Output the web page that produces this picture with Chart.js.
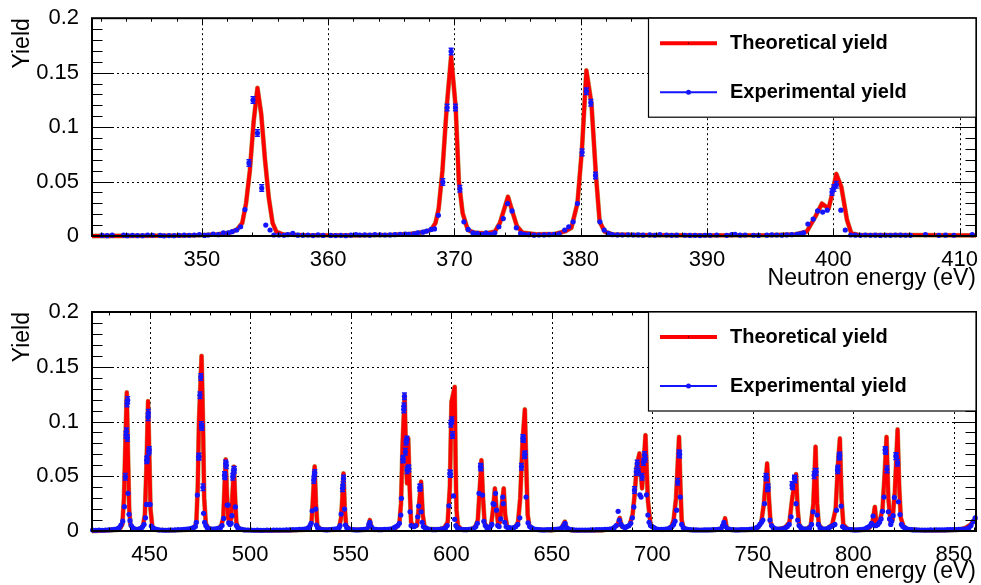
<!DOCTYPE html>
<html><head><meta charset="utf-8">
<script src="https://cdn.jsdelivr.net/npm/chart.js@4.4.0/dist/chart.umd.min.js"></script>
<style>
html,body{margin:0;padding:0;background:#fff;}
#wrap{position:relative;width:981px;height:585px;overflow:hidden;}
canvas{position:absolute;left:0;}
</style></head><body>
<div id="wrap">
<canvas id="c1" width="981" height="292" style="top:0px"></canvas>
<canvas id="c2" width="981" height="293" style="top:292px"></canvas>
</div>
<script>
// ---------- tick labels / texts ----------
const yTicks = [0, 0.05, 0.1, 0.15, 0.2];
const yTickLabels = ['0', '0.05', '0.1', '0.15', '0.2'];
const xTicksTop = [350, 360, 370, 380, 390, 400, 410];
const xTickLabelsTop = ['350', '360', '370', '380', '390', '400', '410'];
const xTicksBot = [450, 500, 550, 600, 650, 700, 750, 800, 850];
const xTickLabelsBot = ['450', '500', '550', '600', '650', '700', '750', '800', '850'];
const legendLabels = ['Theoretical yield', 'Experimental yield'];
const yTitle = 'Yield';
const xTitle = 'Neutron energy (eV)';
const errHalf = 0.003;   // read size of the visible error bars

// ---------- top panel: theoretical yield [E, Y] ----------
const theoryTop = [
[341.3,0],[348,0.0003],[350,0.0008],[351.2,0.0015],[352.2,0.003],[352.8,0.006],[353.2,0.012],[353.5,0.03],[353.8,0.06],[354.1,0.105],[354.4,0.136],[354.7,0.112],[355.0,0.07],[355.3,0.035],[355.6,0.012],[355.9,0.004],[356.4,0.0015],[358,0.0008],[362,0.0006],[365,0.001],[366.5,0.002],[367.5,0.0035],[368.15,0.0055],[368.5,0.012],[368.75,0.025],[369.05,0.06],[369.4,0.12],[369.74,0.165],[370.1,0.118],[370.35,0.05],[370.65,0.021],[371.06,0.0055],[371.6,0.003],[372.5,0.0025],[373.2,0.004],[373.6,0.012],[373.95,0.025],[374.24,0.036],[374.6,0.022],[374.95,0.009],[375.4,0.003],[376.5,0.0015],[378,0.002],[378.8,0.0045],[379.26,0.0075],[379.74,0.03],[380.1,0.08],[380.45,0.152],[380.85,0.1215],[381.2,0.0571],[381.5,0.0131],[381.9,0.004],[382.5,0.0015],[385,0.0008],[390,0.0005],[395,0.0008],[397,0.0015],[397.9,0.004],[398.57,0.0176],[399.1,0.0298],[399.63,0.0252],[399.9,0.038],[400.24,0.0571],[400.64,0.045],[401.09,0.0146],[401.43,0.0024],[402,0.001],[411.3,0.0005]
];
// ---------- top panel: experimental yield [E, Y] ----------
const expTop = [
[342.1,.0005],[342.5,.0003],[342.9,.0008],[343.8,.0008],[344.1,.0003],[344.5,.0006],[344.9,.0004],[345.3,.0003],[345.7,.0009],[346.1,.0007],[346.7,.0005],[347.0,.0002],[347.4,.0004],[347.8,.0003],[348.2,.0006],[348.6,.0008],[349.0,.0007],[349.4,.0009],[349.8,.0012],[350.2,.0005],[350.5,.0009],[350.9,.0018],[351.3,.0012],[351.7,.003],[352.1,.0028],[352.4,.004],[352.75,.0055],[353.07,.0085],[353.41,.0243],[353.73,.0671],[354.05,.1248],[354.4,.0945],[354.74,.044],[355.06,.010],[355.4,.0055],[355.7,.0009],[356.1,.0009],[356.5,.0007],[356.8,.0012],[357.2,.0025],[357.6,.0008],[358.0,.0006],[358.4,.0009],[358.8,.0004],[359.2,.001],[359.6,.0005],[360.2,.0005],[360.6,.0004],[361.0,.0006],[361.4,.0003],[361.8,.0008],[362.2,.0012],[362.5,.0009],[362.9,.001],[363.3,.0008],[363.7,.0012],[364.1,.0011],[364.5,.0009],[364.9,.001],[365.3,.0012],[365.7,.0015],[366.1,.0018],[366.4,.0016],[366.8,.002],[367.1,.003],[367.5,.0035],[367.8,.0045],[368.15,.006],[368.42,.0065],[368.73,.019],[369.08,.0495],[369.42,.118],[369.74,.1695],[370.08,.118],[370.43,.0434],[370.75,.013],[371.09,.006],[371.46,.003],[371.8,.0024],[372.17,.0015],[372.5,.003],[372.83,.0015],[373.2,.003],[373.52,.0085],[373.87,.016],[374.21,.0298],[374.56,.023],[374.9,.0075],[375.24,.0024],[375.55,.0015],[375.9,.0012],[376.3,.0008],[376.7,.0009],[377.1,.001],[377.5,.0012],[377.9,.0015],[378.3,.002],[378.73,.0055],[379.05,.0085],[379.4,.013],[379.74,.0298],[380.11,.0768],[380.45,.133],[380.8,.1224],[381.17,.0556],[381.52,.013],[381.86,.0055],[382.18,.0024],[382.51,.0012],[382.91,.001],[383.3,.0009],[383.75,.0011],[384.15,.0009],[384.55,.001],[384.94,.0008],[385.47,.001],[385.87,.0007],[386.27,.0012],[386.8,.0009],[387.2,.0006],[387.6,.0008],[388.25,.0007],[388.65,.0005],[389.05,.0006],[389.45,.0004],[389.84,.0007],[390.24,.0006],[390.77,.0009],[391.56,.0006],[391.96,.0012],[392.22,.0016],[392.62,.0008],[393.02,.0009],[393.68,.0007],[394.08,.0005],[394.74,.0008],[395.13,.001],[395.53,.0009],[395.93,.0007],[396.32,.001],[396.72,.0012],[397.12,.0015],[397.38,.002],[397.65,.003],[397.99,.011],[398.41,.0155],[398.76,.023],[399.16,.022],[399.52,.0237],[399.9,.0404],[400.05,.044],[400.24,.047],[400.6,.0237],[400.95,.0055],[401.38,.0009],[401.75,.0008],[402.14,.0006],[402.54,.0009],[402.94,.0007],[403.33,.0008],[403.73,.0005],[404.13,.0007],[404.53,.0006],[404.92,.0009],[405.32,.0008],[405.72,.0007],[406.11,.0006],[407.3,.0012],[408.36,.0006],[408.89,.0008],[409.55,.0007],[411.0,.0012]
];

// ---------- bottom panel: theoretical yield [E, Y] ----------
const theoryBot = [
[421.3,0],[434,0.001],[435.5,0.003],[436.4,0.006],[437.2,0.03],[437.9,0.08],[438.6,0.1265],[439.2,0.07],[439.8,0.02],[440.4,0.006],[441.5,0.002],[443.5,0.0015],[445.5,0.002],[446.7,0.005],[447.6,0.015],[448.4,0.06],[449.2,0.1186],[449.8,0.07],[450.4,0.02],[451.3,0.004],[453,0.001],[460,0.0005],[468,0.001],[471,0.002],[472.5,0.004],[473.2,0.008],[473.9,0.04],[474.5,0.1],[475.8,0.16],[476.5,0.1],[477.1,0.03],[477.9,0.007],[479,0.003],[481,0.0015],[484,0.002],[485.6,0.005],[486.6,0.012],[487.2,0.04],[487.8,0.0655],[488.4,0.035],[489,0.012],[489.8,0.007],[490.6,0.012],[491.2,0.035],[491.9,0.0587],[492.5,0.03],[493.1,0.008],[494,0.003],[496,0.001],[505,0.0003],[520,0.0005],[527,0.001],[529.3,0.003],[530.5,0.008],[531.2,0.03],[532.05,0.059],[532.7,0.025],[533.4,0.005],[535,0.0015],[542,0.001],[544.2,0.003],[545.2,0.012],[545.8,0.03],[546.4,0.0526],[547,0.022],[547.7,0.005],[549.5,0.0015],[557,0.001],[558.7,0.003],[559.5,0.01],[560.3,0.003],[562,0.001],[570,0.0015],[572.5,0.003],[574.2,0.007],[575.0,0.025],[575.8,0.08],[576.8,0.124],[577.6,0.06],[578.0,0.0435],[578.6,0.0845],[579.3,0.04],[580,0.008],[581.5,0.004],[583,0.005],[584,0.025],[585,0.045],[585.8,0.015],[586.7,0.004],[588.5,0.002],[594,0.0015],[596.5,0.003],[598.2,0.008],[599.3,0.04],[600.1,0.118],[601.7,0.1316],[602.2,0.057],[602.6,0.0195],[603.3,0.005],[605,0.0015],[610,0.0015],[612,0.004],[613.2,0.01],[614.2,0.04],[615.0,0.0647],[615.8,0.03],[616.6,0.007],[618,0.003],[619.8,0.005],[620.8,0.02],[621.7,0.039],[622.5,0.02],[623.3,0.006],[624.2,0.008],[625.2,0.025],[626.1,0.039],[626.8,0.015],[627.8,0.004],[630,0.002],[632,0.004],[633.2,0.008],[634.3,0.03],[635.4,0.08],[636.6,0.111],[637.3,0.06],[638,0.015],[638.8,0.005],[641,0.0015],[650,0.0005],[654.5,0.002],[656.5,0.0085],[657.5,0.002],[660,0.0005],[675,0.0005],[680,0.002],[682.5,0.005],[683.8,0.012],[684.8,0.004],[686.5,0.003],[688.6,0.005],[690.2,0.015],[691.1,0.031],[692.3,0.06],[693.6,0.0709],[694.9,0.039],[696.6,0.0876],[697.8,0.028],[699.1,0.006],[701,0.002],[705,0.001],[708,0.002],[709.5,0.004],[710.6,0.01],[711.8,0.03],[713.3,0.086],[714.0,0.04],[714.6,0.01],[715.5,0.003],[718,0.001],[730,0.0008],[734,0.002],[735.4,0.006],[736.2,0.0116],[737,0.003],[739,0.001],[750,0.001],[752.5,0.003],[754.2,0.008],[755.5,0.025],[757.1,0.0617],[758.0,0.03],[758.8,0.008],[760,0.003],[762,0.0015],[766,0.003],[768.2,0.008],[769.6,0.03],[771.5,0.052],[772.3,0.02],[773,0.006],[774.5,0.002],[777,0.002],[778.8,0.005],[780.1,0.025],[781.2,0.077],[782,0.025],[782.8,0.006],[784.5,0.002],[787,0.002],[789.5,0.006],[791.2,0.02],[792.3,0.06],[793.3,0.0845],[794.1,0.03],[795,0.006],[797,0.002],[800,0.001],[805,0.001],[808,0.003],[809.5,0.008],[810.7,0.022],[811.5,0.006],[813,0.008],[814.5,0.02],[815.5,0.05],[816.5,0.086],[817.4,0.03],[818.5,0.008],[819.5,0.01],[820.6,0.035],[822.0,0.0927],[822.8,0.04],[823.6,0.012],[825,0.004],[827,0.0015],[835,0.0005],[845,0.0005],[852,0.001],[856,0.003],[858.5,0.006],[860,0.01],[861,0.012]
];
// ---------- bottom panel: experimental yield [E, Y] ----------
const expBot = [
[421.6,.0008],[423.2,.0006],[424.8,.0009],[426.4,.0007],[428.0,.0008],[429.6,.001],[431.2,.0012],[432.6,.0015],[433.8,.002],[434.8,.003],[435.7,.0055],[436.6,.009],[437.4,.0222],[437.9,.0495],[438.2,.0876],[438.45,.091],[438.7,.1165],[438.9,.085],[439.05,.1195],[439.2,.0344],[439.7,.0152],[440.2,.0094],[440.8,.005],[441.5,.003],[442.3,.002],[443.2,.0015],[444.1,.0015],[445.0,.002],[445.8,.0025],[446.5,.004],[447.2,.006],[447.9,.012],[448.4,.0243],[448.5,.0647],[448.8,.066],[449.2,.104],[449.35,.108],[449.5,.0723],[449.8,.074],[450.2,.0243],[450.8,.0045],[451.5,.003],[452.4,.002],[453.4,.0015],[454.6,.001],[456.2,.0008],[457.8,.0007],[459.4,.0008],[461.0,.0009],[462.6,.001],[464.2,.0012],[465.8,.0013],[467.2,.0015],[468.5,.0018],[469.7,.002],[470.8,.0025],[471.8,.003],[472.7,.004],[473.2,.008],[473.7,.0328],[474.3,.0678],[474.6,.068],[475.0,.124],[475.4,.1407],[475.7,.0967],[476.0,.095],[476.5,.0399],[476.8,.0161],[477.3,.008],[477.9,.005],[478.6,.003],[479.5,.002],[480.5,.0018],[481.6,.0018],[482.8,.002],[484.0,.0025],[485.2,.003],[486.0,.005],[486.8,.0115],[487.2,.051],[487.5,.05],[487.8,.0617],[488.1,.06],[488.5,.0237],[489.0,.0237],[489.3,.0075],[489.9,.006],[490.5,.007],[490.9,.014],[491.3,.0495],[491.6,.052],[491.8,.056],[492.1,.056],[492.6,.022],[493.1,.005],[493.8,.003],[494.7,.002],[495.8,.0015],[497.2,.001],[498.8,.0009],[500.4,.0008],[502.0,.0007],[503.6,.0008],[505.2,.0006],[506.8,.0007],[508.4,.0008],[510.0,.0007],[511.6,.0008],[513.2,.0009],[514.8,.0008],[516.4,.0009],[518.0,.001],[519.6,.001],[521.2,.0012],[522.8,.0012],[524.4,.0015],[525.8,.0015],[527.0,.0018],[528.1,.002],[529.0,.003],[529.8,.005],[530.3,.007],[530.8,.0185],[531.6,.0465],[531.9,.051],[532.1,.053],[532.6,.02],[532.9,.0055],[533.5,.003],[534.3,.002],[535.3,.0015],[536.6,.0012],[538.0,.001],[539.4,.0012],[540.8,.0015],[542.0,.0018],[543.2,.002],[544.2,.003],[544.7,.005],[545.2,.0155],[545.9,.039],[546.2,.042],[546.4,.048],[546.9,.02],[547.4,.0055],[548.0,.003],[548.8,.002],[549.8,.0015],[551.0,.0012],[552.4,.001],[553.8,.001],[555.2,.0012],[556.6,.0015],[558.0,.002],[559.0,.006],[559.5,.008],[560.2,.004],[561.2,.002],[562.6,.0015],[564.0,.0012],[565.4,.0012],[566.8,.0015],[568.2,.0015],[569.4,.0018],[570.6,.002],[571.6,.003],[572.5,.004],[573.4,.005],[574.2,.007],[574.9,.0146],[575.2,.0298],[575.9,.0653],[576.1,.066],[576.4,.111],[576.5,.114],[576.7,.123],[577.2,.0723],[577.5,.0815],[577.9,.0836],[578.0,.0556],[578.7,.0572],[578.9,.057],[579.5,.0176],[580.0,.005],[580.7,.004],[581.5,.004],[582.3,.005],[583.3,.013],[583.8,.0228],[584.3,.0395],[584.6,.04],[585.0,.0176],[585.5,.008],[586.1,.004],[587.0,.003],[588.1,.002],[589.4,.0015],[590.8,.0012],[592.2,.0012],[593.6,.0015],[595.0,.0018],[596.2,.002],[597.2,.003],[598.0,.005],[598.8,.023],[599.3,.0526],[599.6,.052],[599.8,.098],[600.3,.101],[600.6,.0876],[601.1,.032],[601.7,.0107],[602.3,.005],[603.0,.003],[603.9,.002],[605.0,.0015],[606.3,.0012],[607.6,.0012],[608.9,.0015],[610.1,.0018],[611.2,.002],[612.2,.004],[613.0,.007],[613.8,.0344],[614.5,.0587],[614.8,.058],[615.5,.0328],[616.2,.0088],[616.9,.005],[617.7,.003],[618.6,.003],[619.5,.004],[620.2,.006],[620.8,.025],[621.3,.0243],[622.0,.0344],[622.5,.019],[623.1,.005],[623.8,.004],[624.6,.011],[625.6,.031],[625.9,.025],[626.6,.008],[627.3,.004],[628.1,.003],[629.0,.003],[630.0,.0025],[631.0,.003],[632.1,.004],[633.1,.006],[634.1,.012],[634.9,.0587],[635.6,.085],[635.9,.084],[636.4,.0693],[636.7,.07],[637.2,.031],[638.2,.0075],[639.0,.004],[639.9,.003],[641.0,.002],[642.2,.0015],[643.6,.0012],[645.0,.001],[646.4,.001],[647.8,.0012],[649.2,.0012],[650.5,.0015],[651.8,.0015],[653.0,.0018],[654.2,.002],[655.2,.003],[656.0,.005],[656.6,.007],[657.3,.003],[658.3,.002],[659.6,.0012],[661.0,.001],[662.4,.0008],[663.8,.0008],[665.2,.0009],[666.6,.0008],[668.0,.0009],[669.4,.001],[670.8,.001],[672.2,.0012],[673.6,.0012],[675.0,.0013],[676.4,.0015],[677.7,.0016],[678.9,.0018],[680.0,.002],[681.0,.003],[682.0,.005],[683.0,.018],[683.6,.01],[684.4,.006],[685.4,.004],[686.4,.003],[687.4,.004],[688.4,.005],[689.3,.007],[690.1,.012],[690.8,.022],[691.1,.0374],[692.0,.054],[692.5,.0617],[693.1,.054],[693.8,.033],[694.4,.031],[694.9,.0495],[695.6,.063],[696.1,.0693],[696.5,.066],[697.1,.033],[697.8,.0146],[698.4,.008],[699.1,.005],[699.9,.004],[700.8,.003],[701.8,.002],[703.0,.0015],[704.3,.0015],[705.6,.0015],[706.8,.0018],[707.9,.002],[708.9,.003],[709.8,.004],[710.6,.006],[711.3,.009],[712.1,.019],[712.6,.045],[713.3,.0709],[713.6,.07],[713.9,.031],[714.6,.006],[715.4,.003],[716.4,.002],[717.6,.0015],[719.0,.0012],[720.4,.001],[721.8,.001],[723.2,.0009],[724.6,.0009],[726.0,.001],[727.4,.001],[728.8,.0011],[730.2,.0012],[731.6,.0013],[733.0,.0015],[734.2,.002],[735.0,.005],[735.6,.008],[736.4,.004],[737.4,.002],[738.6,.0015],[740.0,.0012],[741.4,.001],[742.8,.001],[744.2,.0012],[745.6,.0012],[747.0,.0013],[748.4,.0015],[749.6,.0018],[750.8,.002],[751.8,.003],[752.7,.004],[753.5,.006],[754.3,.008],[755.0,.01],[755.8,.025],[756.5,.0495],[756.8,.049],[757.3,.039],[757.6,.04],[758.5,.01],[759.3,.005],[760.2,.003],[761.2,.002],[762.4,.0018],[763.8,.0018],[765.0,.002],[766.2,.003],[767.2,.004],[768.1,.006],[769.0,.013],[769.5,.042],[769.8,.041],[770.7,.048],[771.0,.047],[771.5,.025],[772.3,.01],[773.0,.005],[773.9,.003],[774.9,.002],[776.1,.0018],[777.3,.002],[778.3,.003],[779.2,.006],[780.0,.0176],[780.5,.051],[781.0,.054],[781.5,.054],[782.0,.0146],[782.6,.006],[783.4,.003],[784.4,.002],[785.6,.0018],[786.8,.002],[787.9,.003],[788.9,.004],[789.9,.005],[790.8,.006],[791.6,.019],[792.1,.0556],[792.4,.057],[792.9,.0678],[793.2,.069],[793.9,.0228],[794.6,.004],[795.5,.003],[796.5,.002],[797.7,.0015],[799.0,.0012],[800.4,.001],[801.8,.001],[803.2,.0012],[804.6,.0015],[805.8,.002],[806.8,.003],[807.8,.004],[808.5,.005],[809.0,.007],[809.8,.0137],[810.6,.005],[811.4,.005],[812.2,.006],[813.0,.008],[813.8,.011],[814.5,.018],[815.2,.031],[815.8,.074],[816.1,.073],[816.7,.0563],[817.4,.0176],[818.0,.011],[818.6,.006],[819.1,.009],[819.8,.014],[820.4,.0307],[821.1,.0684],[821.4,.068],[822.0,.0623],[822.4,.0267],[823.2,.015],[823.9,.006],[824.6,.004],[825.5,.003],[826.5,.002],[827.6,.0015],[828.8,.0012],[830.0,.001],[831.4,.001],[832.8,.0009],[834.2,.0009],[835.6,.0008],[837.0,.0009],[838.4,.001],[839.8,.0009],[841.2,.001],[842.6,.001],[844.0,.0011],[845.4,.001],[846.8,.0012],[848.2,.0012],[849.6,.0013],[851.0,.0013],[852.4,.0015],[853.8,.0016],[855.2,.0018],[856.4,.002],[857.5,.003],[858.5,.005],[859.6,.0085],[860.6,.012]
];

// ---------- rendering ----------
const FONT = '"Liberation Sans", Arial, Helvetica, sans-serif';
Chart.defaults.font.family = FONT;
Chart.defaults.color = '#000';
const RED = '#ff0000', EDGE = '#b8a060', BLUE = '#1414ff';

function rootPlugin(minorStep) {
  return {
    id: 'rootStyle',
    beforeDatasetsDraw(chart) {
      const {ctx, chartArea: a, scales: {x, y}} = chart;
      ctx.save();
      ctx.strokeStyle = '#000'; ctx.lineWidth = 1; ctx.setLineDash([2, 3]);
      ctx.beginPath();
      x.ticks.forEach(t => { const px = Math.round(x.getPixelForValue(t.value)) + 0.5; ctx.moveTo(px, a.top); ctx.lineTo(px, a.bottom); });
      yTicks.forEach(v => { if (v > y.min && v < y.max) { const py = Math.round(y.getPixelForValue(v)) + 0.5; ctx.moveTo(a.left, py); ctx.lineTo(a.right, py); } });
      ctx.stroke();
      ctx.restore();
    },
    afterDatasetsDraw(chart) {
      const {ctx, scales: {x, y}} = chart;
      const ds = chart.data.datasets[0].data;
      ctx.save();
      ctx.strokeStyle = BLUE; ctx.lineWidth = 1.5;
      ctx.beginPath();
      ds.forEach(p => {
        if (p.y < 0.035) return;
        const px = x.getPixelForValue(p.x);
        const y1 = y.getPixelForValue(p.y + errHalf), y2 = y.getPixelForValue(p.y - errHalf);
        ctx.moveTo(px, y1); ctx.lineTo(px, y2);
        ctx.moveTo(px - 2.5, y1); ctx.lineTo(px + 2.5, y1);
        ctx.moveTo(px - 2.5, y2); ctx.lineTo(px + 2.5, y2);
      });
      ctx.stroke();
      ctx.restore();
    },
    afterDraw(chart) {
      const {ctx, chartArea: a, scales: {x, y}} = chart;
      ctx.save();
      ctx.strokeStyle = '#000'; ctx.lineWidth = 1;
      ctx.beginPath();
      const majX = new Set(x.ticks.map(t => t.value));
      for (let v = Math.ceil(x.min / minorStep) * minorStep; v <= x.max + 1e-9; v += minorStep) {
        const vv = Math.round(v * 1000) / 1000;
        const len = majX.has(vv) ? 7 : 3.5;
        const px = Math.round(x.getPixelForValue(vv)) + 0.5;
        ctx.moveTo(px, a.bottom); ctx.lineTo(px, a.bottom - len);
        ctx.moveTo(px, a.top); ctx.lineTo(px, a.top + len);
      }
      for (let i = 0; i <= 20; i++) {
        const v = i * 0.01;
        const len = (i % 5 === 0) ? 21 : 10.5;
        const py = Math.round(y.getPixelForValue(v)) + 0.5;
        ctx.moveTo(a.left, py); ctx.lineTo(a.left + len, py);
        ctx.moveTo(a.right, py); ctx.lineTo(a.right - len, py);
      }
      ctx.stroke();
      ctx.lineWidth = 2;
      ctx.strokeRect(a.left, a.top, a.right - a.left, a.bottom - a.top);
      // legend box
      const bx = 648, by = a.top, bw = a.right - bx, bh = 99;
      ctx.fillStyle = '#fff';
      ctx.fillRect(bx, by, bw, bh);
      ctx.lineWidth = 1.2;
      ctx.strokeRect(bx + 0.5, by, bw - 0.5, bh);
      const rows = [by + 25, by + 74];
      ctx.strokeStyle = RED; ctx.lineWidth = 4;
      ctx.beginPath(); ctx.moveTo(660, rows[0]); ctx.lineTo(717, rows[0]); ctx.stroke();
      ctx.fillStyle = '#000'; ctx.fillRect(688, rows[0] - 0.5, 1, 1);
      ctx.strokeStyle = BLUE; ctx.lineWidth = 2;
      ctx.beginPath(); ctx.moveTo(660, rows[1]); ctx.lineTo(717, rows[1]); ctx.stroke();
      ctx.fillStyle = BLUE; ctx.beginPath(); ctx.arc(688.5, rows[1], 2.5, 0, Math.PI * 2); ctx.fill();
      ctx.fillStyle = '#000';
      ctx.font = 'bold 20px ' + FONT;
      ctx.textBaseline = 'middle'; ctx.textAlign = 'left';
      ctx.fillText(legendLabels[0], 730, rows[0]);
      ctx.fillText(legendLabels[1], 730, rows[1]);
      ctx.restore();
    }
  };
}

function makeChart(id, theory, exp, xMin, xMax, xTicks, xLabels, minorStep, topPad, xAxisH) {
  const th = theory.map(p => ({x: p[0], y: p[1]}));
  const ex = exp.map(p => ({x: p[0], y: p[1]}));
  return new Chart(document.getElementById(id), {
    type: 'scatter',
    data: {datasets: [
      {label: 'Experimental yield', data: ex, showLine: false, pointRadius: 2.6, pointBackgroundColor: BLUE, pointBorderWidth: 0, pointHoverRadius: 2.6, order: 0, clip: false},
      {label: 'Theoretical yield', data: th, showLine: true, borderColor: RED, borderWidth: 3.8, borderJoinStyle: 'round', pointRadius: 0, order: 1, clip: false, tension: 0},
      {label: 'edge', data: th, showLine: true, borderColor: EDGE, borderWidth: 4.8, borderJoinStyle: 'round', pointRadius: 0, order: 2, clip: false, tension: 0}
    ]},
    options: {
      responsive: false, animation: false, devicePixelRatio: 1,
      layout: {padding: {top: topPad, right: 5, left: 0, bottom: 0}},
      plugins: {legend: {display: false}, tooltip: {enabled: false}},
      events: [],
      scales: {
        x: {
          type: 'linear', min: xMin, max: xMax,
          afterBuildTicks: s => { s.ticks = xTicks.map(v => ({value: v})); },
          afterFit: s => { s.height = xAxisH; },
          grid: {display: false}, border: {display: false},
          ticks: {autoSkip: false, maxRotation: 0, minRotation: 0, padding: 3, font: {size: 22}, color: '#000',
                  callback: (v, i) => xLabels[i]},
          title: {display: true, text: xTitle, align: 'end', color: '#000', font: {size: 23}, padding: {top: 0, bottom: 0}}
        },
        y: {
          type: 'linear', min: 0, max: 0.2,
          afterBuildTicks: s => { s.ticks = yTicks.map(v => ({value: v})); },
          afterFit: s => { s.width = 92; },
          grid: {display: false}, border: {display: false},
          ticks: {padding: 5, font: {size: 22}, color: '#000', callback: (v, i) => yTickLabels[i]},
          title: {display: true, text: yTitle, align: 'end', color: '#000', font: {size: 23}, padding: {top: 9, bottom: 0}}
        }
      }
    },
    plugins: [rootPlugin(minorStep)]
  });
}

makeChart('c1', theoryTop, expTop, 341.3, 411.3, xTicksTop, xTickLabelsTop, 2, 17, 56);
makeChart('c2', theoryBot, expBot, 421.3, 861, xTicksBot, xTickLabelsBot, 10, 20, 54);
</script>
</body></html>
